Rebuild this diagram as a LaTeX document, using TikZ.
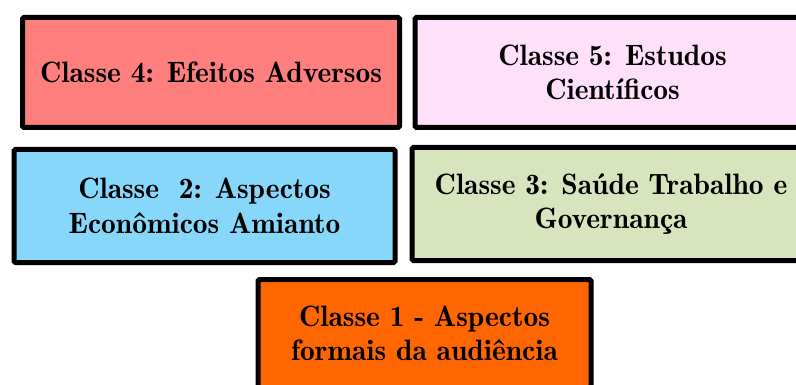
\documentclass[tikz,border=0pt]{standalone}
\usepackage{fontspec}
\newfontfamily\demifont{lmromandemi10-regular.otf}
\usepackage{xcolor}
\definecolor{rosa}{HTML}{FF7F7F}
\definecolor{lilas}{HTML}{FFE0F9}
\definecolor{azul}{HTML}{87D7FB}
\definecolor{verde}{HTML}{D7E4BD}
\definecolor{laranja}{HTML}{FF6600}
\tikzset{
	classe/.style={draw,line width=5pt,rounded corners=1.5pt,align=center,inner sep=0pt,
		font=\demifont\fontsize{29.5}{34.5}\selectfont}
}
\begin{document}
\begin{tikzpicture}[x=1pt,y=-1pt]
\useasboundingbox (0,0) rectangle (796,385);
\clip (0,0) rectangle (796,385);
\node[classe,fill=rosa,minimum width=377pt,minimum height=110pt] (c4) at (211,72.5) {Classe 4: Efeitos Adversos};
\node[classe,fill=lilas,minimum width=395pt,minimum height=110pt] (c5) at (612.5,72.5) {Classe 5: Estudos\\Científicos};
\node[classe,fill=azul,minimum width=381pt,minimum height=113pt] (c2) at (204.5,206) {Classe\ \ 2: Aspectos\\Econômicos Amianto};
\node[classe,fill=verde,minimum width=398pt,minimum height=113pt] (c3) at (611,204) {Classe 3: Saúde Trabalho e\\Governança};
\node[classe,fill=laranja,minimum width=333pt,minimum height=108pt] (c1) at (424.5,333.5) {Classe 1 - Aspectos\\formais da audiência};
\end{tikzpicture}
\end{document}
